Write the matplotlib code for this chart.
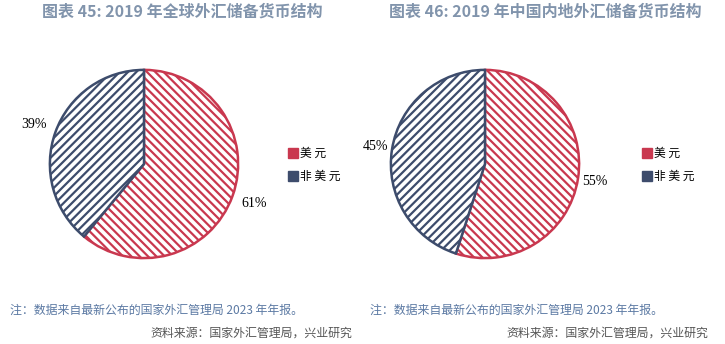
import matplotlib.pyplot as plt
from matplotlib.lines import Line2D

plt.rcParams['font.family'] = ['Noto Sans CJK SC', 'DejaVu Sans']
plt.rcParams['hatch.linewidth'] = 1.6

# data
labels = ['美元', '非美元']
global_share = [61, 39]
china_share = [55, 45]
titles = ['图表 45: 2019 年全球外汇储备货币结构', '图表 46: 2019 年中国内地外汇储备货币结构']
note = '注：数据来自最新公布的国家外汇管理局 2023 年年报。'
source = '资料来源：国家外汇管理局，兴业研究'

red = '#C9384F'
navy = '#3D4C6C'
title_color = '#8194AC'
note_color = '#5B79A3'

W, H = 725, 344
fig = plt.figure(figsize=(W / 100, H / 100), dpi=100)


def px_axes(cx, cy, r):
    return fig.add_axes([(cx - r) / W, (H - cy - r) / H, 2 * r / W, 2 * r / H])


def draw(cx, cy, r, values, title, tx, legx, pct_dist):
    ax = px_axes(cx, cy, r)
    wedges, _, autotexts = ax.pie(values, startangle=90, counterclock=False,
                                  colors=['white', 'white'], autopct='%d%%',
                                  pctdistance=pct_dist,
                                  wedgeprops=dict(linewidth=1.8))
    for w, c, h in zip(wedges, [red, navy], ['\\\\\\\\', '////']):
        w.set_edgecolor(c)
        w.set_hatch(h)
    for t in autotexts:
        t.set_fontfamily('Liberation Serif')
        t.set_fontsize(10)
    ax.set_xlim(-1.02, 1.02)
    ax.set_ylim(-1.02, 1.02)
    ax.set_aspect('equal')
    fig.text(tx / W, 1 - 12 / H, title, ha='center', va='center',
             fontsize=11.5, fontweight='bold', color=title_color)
    handles = [Line2D([], [], marker='s', ls='', markersize=7, color=c)
               for c in [red, navy]]
    fig.legend(handles, ['美 元', '非 美 元'], loc='center left',
               bbox_to_anchor=(legx / W, 1 - 165 / H), frameon=False,
               fontsize=8.5, handletextpad=0.1, labelspacing=0.9,
               handlelength=1.0)


draw(144, 164, 96, global_share, titles[0], 182, 276, 1.24)
draw(485, 164, 96, china_share, titles[1], 545, 630, 1.18)

fig.text(10 / W, 1 - 310 / H, note, ha='left', va='center', fontsize=8.6, color=note_color)
fig.text(370 / W, 1 - 310 / H, note, ha='left', va='center', fontsize=8.6, color=note_color)
fig.text(352 / W, 1 - 333 / H, source, ha='right', va='center', fontsize=8.6, color='#555555')
fig.text(708 / W, 1 - 333 / H, source, ha='right', va='center', fontsize=8.6, color='#555555')

fig.savefig('out.png', dpi=100)
